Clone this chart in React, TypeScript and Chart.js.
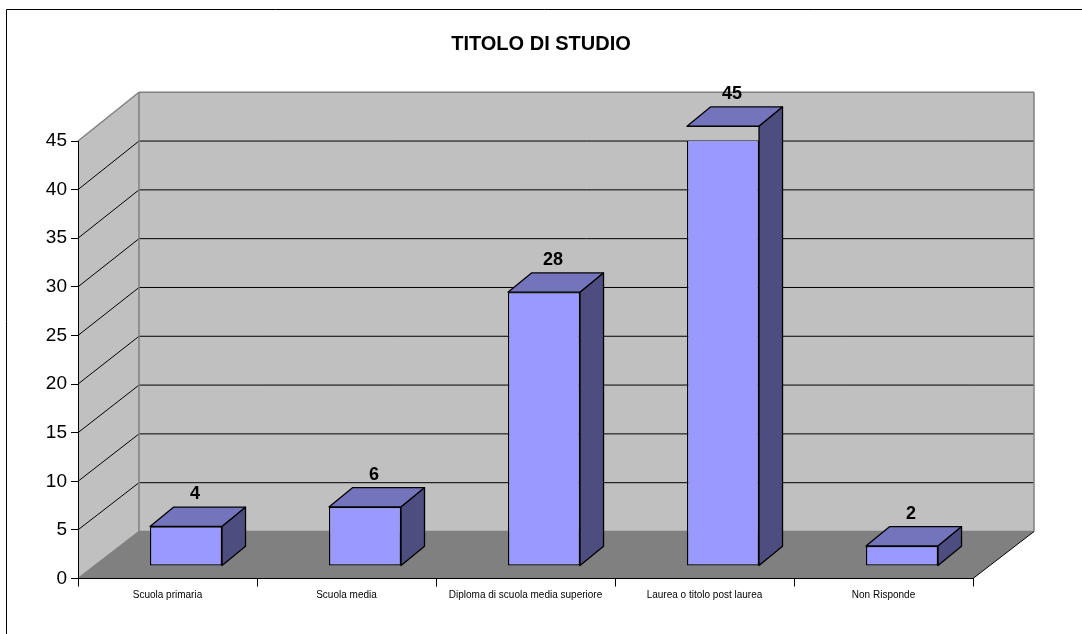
import React, { useEffect, useRef } from "react";
import { Chart, registerables } from "chart.js";

Chart.register(...registerables);

const categories = [
  "Scuola primaria",
  "Scuola media",
  "Diploma di scuola media superiore",
  "Laurea o titolo post laurea",
  "Non Risponde",
];
const counts = [4, 6, 28, 45, 2];
const yTicks = [0, 5, 10, 15, 20, 25, 30, 35, 40, 45];

const FONT = '"Liberation Sans", Arial, sans-serif';

// Depth of the box the bars stand in, and of the bars themselves.
const WALL_DX = 61;
const WALL_DY = 47;
const BAR_SHIFT_X = 18.5;
const BAR_SHIFT_Y = 13;
const BAR_DX = 23.5;
const BAR_DY = 19.3;
const REAR_STRETCH = 1.004;
const LABEL_DX = 9;

const poly = (ctx: CanvasRenderingContext2D, pts: number[][], fill?: string, stroke?: string, lw = 1) => {
  ctx.beginPath();
  pts.forEach(([x, y], i) => (i ? ctx.lineTo(x, y) : ctx.moveTo(x, y)));
  ctx.closePath();
  if (fill) {
    ctx.fillStyle = fill;
    ctx.fill();
  }
  if (stroke) {
    ctx.strokeStyle = stroke;
    ctx.lineWidth = lw;
    ctx.stroke();
  }
};

const seg = (ctx: CanvasRenderingContext2D, x1: number, y1: number, x2: number, y2: number, color: string, lw = 1) => {
  ctx.beginPath();
  ctx.moveTo(x1, y1);
  ctx.lineTo(x2, y2);
  ctx.strokeStyle = color;
  ctx.lineWidth = lw;
  ctx.stroke();
};

// Walls, floor and gridlines of the 3D box, plus the extruded faces of the bars.
const box3d = {
  id: "box3d",
  afterDatasetsUpdate(chart: any) {
    const y0 = chart.scales.y.getPixelForValue(0);
    chart.getDatasetMeta(0).data.forEach((el: any) => {
      const base = y0 - BAR_SHIFT_Y;
      el.x += BAR_SHIFT_X;
      el.y = base - (y0 - el.y) * REAR_STRETCH;
      el.base = base;
      el.height = base - el.y;
    });
  },
  beforeDraw(chart: any) {
    const { ctx, chartArea, scales } = chart;
    const { left, right } = chartArea;
    const yS = scales.y;
    const y0 = yS.getPixelForValue(0);
    const rearY = (v: number) => y0 - WALL_DY - (y0 - yS.getPixelForValue(v)) * REAR_STRETCH;
    const top = yS.getPixelForValue(yTicks[yTicks.length - 1]);
    const rl = left + WALL_DX;
    const rr = right + WALL_DX;
    const rTop = rearY(yTicks[yTicks.length - 1]);
    const rBot = rearY(0);

    ctx.save();
    // outer frame
    ctx.fillStyle = "#ffffff";
    ctx.fillRect(0, 0, chart.width, chart.height);
    seg(ctx, 6.5, 9.5, 1082, 9.5, "#000000");
    seg(ctx, 6.5, 9.5, 6.5, 634, "#000000");

    poly(ctx, [[rl, rTop], [rr, rTop], [rr, rBot], [rl, rBot]], "#c0c0c0");
    poly(ctx, [[left, y0], [rl, rBot], [rl, rTop], [left, top]], "#c0c0c0");
    poly(ctx, [[left, y0], [right, y0], [rr, rBot], [rl, rBot]], "#808080");

    yTicks.forEach((v) => {
      if (v === 0) return;
      const front = yS.getPixelForValue(v);
      const rear = rearY(v);
      if (v !== yTicks[yTicks.length - 1]) {
        seg(ctx, left, front, rl, rear, "#000000");
        seg(ctx, rl, rear, rr, rear, "#000000");
      }
    });

    seg(ctx, left, top, rl, rTop, "#808080", 1.5);
    seg(ctx, rl, rTop, rr, rTop, "#808080", 1.5);
    seg(ctx, rr, rTop, rr, rBot, "#808080", 1.5);
    seg(ctx, rl, rTop, rl, rBot, "#808080", 1.5);
    seg(ctx, rl, rBot, rr, rBot, "#808080", 1.5);
    seg(ctx, left, y0, rl, rBot, "#808080", 1.5);
    seg(ctx, right, y0, rr, rBot, "#000000");
    ctx.restore();
  },
  beforeDatasetsDraw(chart: any) {
    const { ctx } = chart;
    ctx.save();
    ctx.lineJoin = "round";
    chart.getDatasetMeta(0).data.forEach((el: any) => {
      const l = el.x - el.width / 2;
      const r = el.x + el.width / 2;
      const t = el.y;
      const b = el.base;
      poly(ctx, [[l, t], [r, t], [r + BAR_DX, t - BAR_DY], [l + BAR_DX, t - BAR_DY]], "#7474bd", "#000000", 1.3);
      poly(ctx, [[r, t], [r + BAR_DX, t - BAR_DY], [r + BAR_DX, b - BAR_DY], [r, b]], "#4d4d80", "#000000", 1.3);
    });
    ctx.restore();
  },
  afterDatasetsDraw(chart: any) {
    const { ctx } = chart;
    ctx.save();
    ctx.fillStyle = "#000000";
    ctx.font = `bold 18px ${FONT}`;
    ctx.textAlign = "center";
    ctx.textBaseline = "middle";
    chart.getDatasetMeta(0).data.forEach((el: any, i: number) => {
      ctx.fillText(String(counts[i]), el.x + LABEL_DX, el.y - BAR_DY - 13);
    });
    ctx.restore();
  },
};

export default function App() {
  const ref = useRef<HTMLCanvasElement>(null);

  useEffect(() => {
    const chart = new Chart(ref.current!, {
      type: "bar",
      data: {
        labels: categories,
        datasets: [
          {
            label: "TITOLO DI STUDIO",
            data: counts,
            backgroundColor: "#9999ff",
            borderColor: "#000000",
            borderWidth: 1.3,
            borderSkipped: false,
            barPercentage: 0.4025,
            categoryPercentage: 1,
          },
        ],
      },
      options: {
        animation: false,
        responsive: false,
        layout: { padding: { left: 0, right: 0, top: 0, bottom: 15.5 } },
        plugins: {
          legend: { display: false },
          tooltip: { enabled: false },
          title: {
            display: true,
            text: "TITOLO DI STUDIO",
            color: "#000000",
            font: { family: FONT, size: 20, weight: "bold", lineHeight: 1.2 },
            padding: { top: 32, bottom: 85 },
          },
        },
        scales: {
          x: {
            grid: { drawOnChartArea: false, color: "#000000", tickLength: 8, offset: true },
            border: { color: "#000000", width: 1 },
            ticks: { color: "#000000", font: { family: FONT, size: 10 }, maxRotation: 0, autoSkip: false, padding: 3 },
            afterFit: (s: any) => {
              s.height = 40;
            },
          },
          y: {
            min: 0,
            max: 45,
            grid: { drawOnChartArea: false, color: "#000000", tickLength: 7 },
            border: { color: "#000000", width: 1 },
            ticks: { color: "#000000", font: { family: FONT, size: 19 }, stepSize: 5, padding: 4, autoSkip: false },
            afterFit: (s: any) => {
              s.width = 78;
            },
          },
          // Reserves the space to the right of the plot so the title stays centred on the page.
          rightGutter: {
            position: "right",
            display: true,
            grid: { display: false },
            border: { display: false },
            ticks: { display: false },
            afterFit: (s: any) => {
              s.width = 109;
            },
          },
        },
      } as any,
      plugins: [box3d],
    });
    return () => chart.destroy();
  }, []);

  return (
    <div style={{ position: "fixed", left: 0, top: 0, width: 1082, height: 634 }}>
      <canvas ref={ref} width={1082} height={634} style={{ display: "block" }} />
    </div>
  );
}
